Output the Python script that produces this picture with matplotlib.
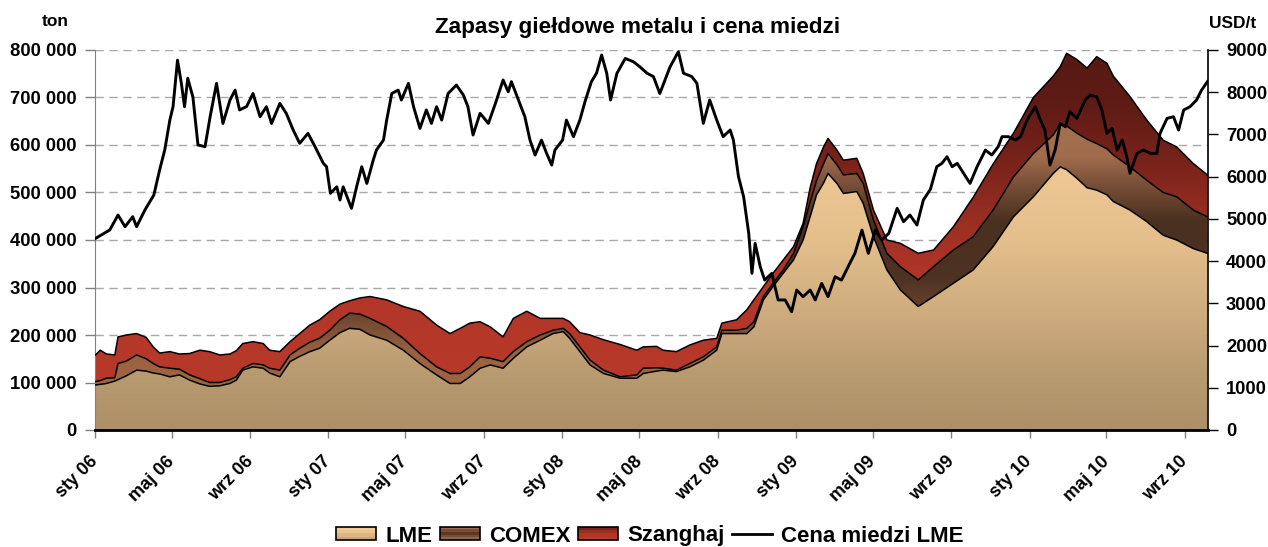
import numpy as np
import matplotlib
matplotlib.use("Agg")
import matplotlib.pyplot as plt
import matplotlib.dates as mdates
from matplotlib.colors import LinearSegmentedColormap
from matplotlib.patches import Patch, Rectangle
from matplotlib.lines import Line2D
from matplotlib.legend_handler import HandlerBase

# zapasy (tys. ton)
stock_dates = [
    "2006-01-02", "2006-01-09", "2006-01-19", "2006-02-01", "2006-02-06", "2006-02-19",
    "2006-03-07", "2006-03-22", "2006-04-02", "2006-04-12", "2006-04-28", "2006-05-13",
    "2006-05-29", "2006-06-14", "2006-06-29", "2006-07-15", "2006-07-31", "2006-08-10",
    "2006-08-20", "2006-09-05", "2006-09-21", "2006-10-01", "2006-10-17", "2006-11-02",
    "2006-11-17", "2006-12-03", "2006-12-18", "2007-01-03", "2007-01-19", "2007-02-03",
    "2007-02-19", "2007-03-07", "2007-04-02", "2007-04-28", "2007-05-24", "2007-06-19",
    "2007-07-10", "2007-07-26", "2007-08-10", "2007-08-26", "2007-09-11", "2007-10-01",
    "2007-10-17", "2007-11-07", "2007-11-28", "2007-12-18", "2008-01-03", "2008-01-13",
    "2008-01-29", "2008-02-14", "2008-03-06", "2008-04-01", "2008-04-27", "2008-05-07",
    "2008-05-28", "2008-06-07", "2008-06-28", "2008-07-19", "2008-08-09", "2008-08-30",
    "2008-09-07", "2008-09-30", "2008-10-16", "2008-10-27", "2008-11-11", "2008-11-26",
    "2008-12-12", "2008-12-28", "2009-01-12", "2009-01-23", "2009-02-02", "2009-02-13",
    "2009-02-20", "2009-03-06", "2009-03-16", "2009-04-06", "2009-04-16", "2009-05-02",
    "2009-05-23", "2009-06-13", "2009-07-11", "2009-08-04", "2009-09-04", "2009-10-05",
    "2009-11-05", "2009-12-07", "2010-01-07", "2010-02-07", "2010-02-18", "2010-02-28",
    "2010-03-16", "2010-04-01", "2010-04-16", "2010-05-02", "2010-05-12", "2010-06-07",
    "2010-07-03", "2010-07-29", "2010-08-19", "2010-09-14", "2010-10-06",
]
lme_kt = [
    95, 96, 98, 103, 106, 114, 126, 124, 120, 118, 112, 116, 105, 97, 92, 93, 98, 105,
    126, 133, 130, 120, 112, 144, 155, 165, 172, 189, 205, 214, 212, 200, 189, 168, 140, 116,
    98, 98, 112, 130, 137, 130, 151, 175, 189, 203, 207, 193, 165, 137, 119, 109, 109, 119,
    124, 126, 123, 133, 147, 168, 203, 203, 203, 217, 274, 302, 330, 358, 400, 449, 495, 520,
    540, 519, 498, 502, 477, 407, 337, 295, 260, 281, 309, 337, 386, 449, 491, 540, 554, 548,
    530, 510, 505, 495, 481, 463, 439, 410, 400, 382, 372,
]
comex_kt = [
    7, 8, 11, 7, 34, 31, 32, 26, 20, 15, 18, 12, 11, 11, 8, 7, 8, 7,
    4, 7, 7, 10, 14, 14, 17, 20, 21, 21, 27, 32, 32, 35, 29, 25, 21, 17,
    21, 21, 21, 24, 14, 14, 14, 11, 11, 7, 7, 10, 10, 10, 7, 3, 7, 11,
    7, 4, 3, 7, 7, 7, 7, 7, 11, 11, 7, 7, 7, 14, 28, 31, 30, 40,
    42, 39, 39, 38, 42, 35, 35, 49, 56, 63, 70, 70, 77, 84, 91, 81, 91, 92,
    95, 102, 98, 97, 98, 91, 87, 90, 91, 81, 77,
]
shanghai_kt = [
    56, 64, 51, 48, 56, 55, 45, 45, 35, 29, 35, 32, 45, 60, 65, 58, 54, 55,
    52, 46, 45, 38, 39, 28, 31, 36, 39, 40, 33, 26, 34, 46, 56, 67, 89, 88,
    84, 95, 92, 74, 66, 52, 70, 64, 35, 25, 21, 25, 30, 53, 64, 68, 52, 45,
    45, 38, 39, 39, 35, 18, 15, 22, 39, 46, 21, 21, 21, 14, 7, 30, 36, 36,
    32, 31, 31, 32, 21, 21, 28, 49, 56, 35, 49, 83, 97, 92, 118, 124, 120, 153,
    155, 150, 183, 180, 166, 148, 127, 110, 105, 98, 88,
]

# cena miedzi LME (USD/t)
price_dates = [
    "2006-01-02", "2006-01-24", "2006-02-06", "2006-02-17", "2006-03-01", "2006-03-07",
    "2006-03-20", "2006-04-03", "2006-04-12", "2006-04-20", "2006-04-28", "2006-05-03",
    "2006-05-10", "2006-05-16", "2006-05-21", "2006-05-26", "2006-06-03", "2006-06-11",
    "2006-06-22", "2006-06-30", "2006-07-10", "2006-07-20", "2006-07-31", "2006-08-08",
    "2006-08-15", "2006-08-26", "2006-09-05", "2006-09-16", "2006-09-26", "2006-10-04",
    "2006-10-17", "2006-10-27", "2006-11-07", "2006-11-17", "2006-11-30", "2006-12-11",
    "2006-12-24", "2006-12-29", "2007-01-04", "2007-01-14", "2007-01-19", "2007-01-24",
    "2007-02-06", "2007-02-14", "2007-02-22", "2007-03-02", "2007-03-12", "2007-03-17",
    "2007-03-28", "2007-04-02", "2007-04-10", "2007-04-20", "2007-04-25", "2007-05-06",
    "2007-05-14", "2007-05-24", "2007-06-03", "2007-06-11", "2007-06-19", "2007-06-27",
    "2007-07-07", "2007-07-20", "2007-07-31", "2007-08-07", "2007-08-15", "2007-08-26",
    "2007-09-08", "2007-09-19", "2007-10-01", "2007-10-09", "2007-10-14", "2007-10-25",
    "2007-11-04", "2007-11-12", "2007-11-20", "2007-11-30", "2007-12-08", "2007-12-16",
    "2007-12-21", "2008-01-02", "2008-01-08", "2008-01-19", "2008-01-29", "2008-02-06",
    "2008-02-16", "2008-02-24", "2008-03-03", "2008-03-11", "2008-03-17", "2008-03-27",
    "2008-04-09", "2008-04-22", "2008-05-02", "2008-05-13", "2008-05-23", "2008-06-02",
    "2008-06-18", "2008-07-01", "2008-07-09", "2008-07-22", "2008-07-30", "2008-08-09",
    "2008-08-19", "2008-08-30", "2008-09-09", "2008-09-20", "2008-09-25", "2008-10-03",
    "2008-10-11", "2008-10-19", "2008-10-24", "2008-10-29", "2008-11-06", "2008-11-13",
    "2008-11-24", "2008-12-04", "2008-12-15", "2008-12-25", "2009-01-02", "2009-01-12",
    "2009-01-23", "2009-01-31", "2009-02-10", "2009-02-20", "2009-03-03", "2009-03-13",
    "2009-03-26", "2009-04-03", "2009-04-14", "2009-04-24", "2009-05-05", "2009-05-15",
    "2009-05-26", "2009-06-08", "2009-06-18", "2009-06-28", "2009-07-09", "2009-07-19",
    "2009-07-30", "2009-08-09", "2009-08-17", "2009-08-25", "2009-09-02", "2009-09-10",
    "2009-09-20", "2009-09-30", "2009-10-11", "2009-10-24", "2009-11-03", "2009-11-13",
    "2009-11-19", "2009-11-29", "2009-12-10", "2009-12-18", "2009-12-28", "2010-01-10",
    "2010-01-18", "2010-01-25", "2010-02-02", "2010-02-10", "2010-02-18", "2010-02-26",
    "2010-03-05", "2010-03-16", "2010-03-29", "2010-04-06", "2010-04-16", "2010-04-24",
    "2010-05-02", "2010-05-10", "2010-05-18", "2010-05-26", "2010-06-02", "2010-06-07",
    "2010-06-18", "2010-06-28", "2010-07-09", "2010-07-19", "2010-07-24", "2010-08-04",
    "2010-08-14", "2010-08-22", "2010-08-30", "2010-09-09", "2010-09-19", "2010-09-27",
    "2010-10-06",
]
price_usd = [
    4540, 4736, 5091, 4815, 5052, 4815, 5210, 5565, 6157, 6630, 7340, 7657,
    8760, 8210, 7657, 8330, 7890, 6750, 6710, 7420, 8210, 7260, 7815, 8050,
    7580, 7660, 7970, 7420, 7657, 7260, 7735, 7500, 7100, 6790, 7026, 6710,
    6315, 6236, 5605, 5760, 5447, 5760, 5250, 5760, 6236, 5840, 6394, 6630,
    6868, 7340, 7970, 8050, 7815, 8210, 7657, 7145, 7580, 7262, 7657, 7340,
    7970, 8170, 7930, 7657, 6986, 7500, 7262, 7735, 8290, 8010, 8250, 7815,
    7420, 6868, 6512, 6868, 6552, 6275, 6630, 6868, 7340, 6947, 7340, 7775,
    8250, 8450, 8880, 8450, 7815, 8450, 8800, 8720, 8600, 8450, 8370, 7970,
    8600, 8960, 8450, 8370, 8210, 7262, 7815, 7340, 6947, 7105, 6868, 6000,
    5525, 4660, 3710, 4420, 3867, 3550, 3710, 3080, 3080, 2800, 3315, 3157,
    3315, 3080, 3473, 3157, 3630, 3550, 3947, 4184, 4736, 4184, 4736, 4500,
    4658, 5250, 4934, 5092, 4855, 5447, 5700, 6236, 6315, 6473, 6236, 6315,
    6078, 5840, 6236, 6630, 6512, 6710, 6947, 6947, 6868, 6947, 7340, 7657,
    7340, 7105, 6275, 6630, 7262, 7183, 7540, 7380, 7815, 7930, 7890, 7580,
    7026, 7145, 6630, 6868, 6473, 6078, 6552, 6630, 6552, 6552, 7026, 7380,
    7420, 7105, 7580, 7657, 7815, 8050, 8250,
]

month_names = {1: "sty", 5: "maj", 9: "wrz"}

plt.rcParams["font.family"] = ["Liberation Sans", "DejaVu Sans"]
plt.rcParams["font.weight"] = "bold"

xs = mdates.date2num(np.array(stock_dates, dtype="datetime64[D]"))
xp = mdates.date2num(np.array(price_dates, dtype="datetime64[D]"))
lme = np.array(lme_kt) * 1000.0
comex = np.array(comex_kt) * 1000.0
shanghai = np.array(shanghai_kt) * 1000.0
lvl1 = lme
lvl2 = lme + comex
lvl3 = lme + comex + shanghai

YMAX = 800000

# gradienty (pionowo, wg wartosci na osi)
cm_lme = LinearSegmentedColormap.from_list("lme", [
    (0.0, "#ad9068"), (0.15, "#b99b71"), (0.3, "#cdab7d"), (0.5, "#e4bf8c"),
    (0.7, "#efc994"), (1.0, "#f4cf9a")])
cm_comex = LinearSegmentedColormap.from_list("comex", [
    (0.0, "#a36a45"), (0.2, "#9a6240"), (0.3, "#6e4630"), (0.4, "#4e3222"),
    (0.55, "#4a301f"), (0.65, "#7a5038"), (0.72, "#a06c4c"), (1.0, "#b07a56")])
cm_sh = LinearSegmentedColormap.from_list("sh", [
    (0.0, "#b83a2a"), (0.4, "#b23628"), (0.55, "#9a2e22"), (0.7, "#7a231b"),
    (0.85, "#601c16"), (1.0, "#561913")])


class GradHandler(HandlerBase):
    # prostokat w legendzie wypelniony paskami (gradient)
    def __init__(self, colors):
        super().__init__()
        self.colors = colors

    def create_artists(self, legend, orig_handle, xdescent, ydescent, width,
                       height, fontsize, trans):
        n = len(self.colors)
        arts = []
        for i, c in enumerate(self.colors):
            arts.append(Rectangle((-xdescent, -ydescent + height * (n - 1 - i) / n),
                                  width, height / n + 0.2, facecolor=c,
                                  edgecolor="none", transform=trans))
        arts.append(Rectangle((-xdescent, -ydescent), width, height,
                              facecolor="none", edgecolor="black", lw=1.2,
                              transform=trans))
        return arts


fig = plt.figure(figsize=(12.68, 5.47), dpi=100)
ax = fig.add_axes([95 / 1268, 1 - 430 / 547, (1208 - 95) / 1268, 380 / 547])

x0 = mdates.date2num(np.datetime64("2006-01-01"))
x1 = mdates.date2num(np.datetime64("2010-10-07"))
grad = np.linspace(0, 1, 400).reshape(-1, 1)


def gradient_band(lower, upper, cmap):
    poly = ax.fill_between(xs, lower, upper, facecolor="none", edgecolor="none")
    img = ax.imshow(grad, extent=[x0, x1, 0, YMAX], origin="lower", aspect="auto",
                    cmap=cmap, zorder=1, interpolation="bilinear")
    img.set_clip_path(poly.get_paths()[0], transform=ax.transData)


gradient_band(np.zeros_like(lvl1), lvl1, cm_lme)
gradient_band(lvl1, lvl2, cm_comex)
gradient_band(lvl2, lvl3, cm_sh)
for lv in (lvl1, lvl2, lvl3):
    ax.plot(xs, lv, color="black", lw=1.1, zorder=3)

ax.set_xlim(x0, x1)
ax.set_ylim(0, YMAX)
ax.set_aspect("auto")

ax.set_yticks(np.arange(0, YMAX + 1, 100000))
ax.set_yticklabels([f"{int(v):,}".replace(",", " ") for v in np.arange(0, YMAX + 1, 100000)])
ax.yaxis.grid(True, linestyle=(0, (6, 4)), color="#a8a8a8", lw=1.0)
ax.set_axisbelow(True)

ticks = []
labels = []
for yr in range(2006, 2011):
    for m in (1, 5, 9):
        d = np.datetime64(f"{yr}-{m:02d}-01")
        if mdates.date2num(d) <= x1:
            ticks.append(mdates.date2num(d))
            labels.append(f"{month_names[m]} {str(yr)[2:]}")
ax.set_xticks(ticks)
ax.set_xticklabels(labels, rotation=45, ha="right", va="center", rotation_mode="anchor")

ax.tick_params(axis="y", direction="out", length=7, width=1, color="#808080",
               labelsize=13.3, pad=6)
ax.tick_params(axis="x", direction="out", length=6, width=1, color="#808080",
               labelsize=13, pad=15)
for lab in ax.get_xticklabels() + ax.get_yticklabels():
    lab.set_fontweight("bold")

ax.spines["top"].set_visible(False)
ax.spines["right"].set_visible(False)
ax.spines["left"].set_color("#808080")
ax.spines["bottom"].set_color("black")
ax.spines["bottom"].set_linewidth(2)

# cena - prawa os
ax2 = ax.twinx()
ax2.plot(xp, price_usd, color="black", lw=2.1, zorder=5)
ax2.set_ylim(0, 9000)
ax2.set_xlim(x0, x1)
ax2.set_yticks(np.arange(0, 9001, 1000))
ax2.set_yticklabels([str(v) for v in range(0, 9001, 1000)])
ax2.tick_params(axis="y", direction="out", length=7, width=1, color="black",
                labelsize=13.2, pad=6)
for lab in ax2.get_yticklabels():
    lab.set_fontweight("bold")
ax2.spines["top"].set_visible(False)
ax2.spines["left"].set_visible(False)
ax2.spines["bottom"].set_visible(False)
ax2.spines["right"].set_color("black")
ax2.spines["right"].set_linewidth(1.2)

fig.text(638 / 1268, 1 - 28 / 547, "Zapasy giełdowe metalu i cena miedzi",
         ha="center", va="center", fontsize=16.2, fontweight="bold")
fig.text(55 / 1268, 1 - 22 / 547, "ton", ha="center", va="center",
         fontsize=12.5, fontweight="bold")
fig.text(1233 / 1268, 1 - 24 / 547, "USD/t", ha="center", va="center",
         fontsize=12.5, fontweight="bold")

h_lme = Patch()
h_comex = Patch()
h_sh = Patch()
h_price = Line2D([], [], color="black", lw=2)
fig.legend([h_lme, h_comex, h_sh, h_price],
           ["LME", "COMEX", "Szanghaj", "Cena miedzi LME"],
           handler_map={
               h_lme: GradHandler(["#f2cb94", "#eac28c", "#dcb582", "#c8a476"]),
               h_comex: GradHandler(["#a06a48", "#7a4e34", "#5a3a26", "#7a4e34", "#946246"]),
               h_sh: GradHandler(["#7a231b", "#9a2e22", "#b03626", "#b83a2a"]),
           },
           loc="center", bbox_to_anchor=(650 / 1268, 11 / 547), ncol=4,
           frameon=False, prop=dict(weight="bold", size=16),
           handlelength=1.8, handleheight=0.55, handletextpad=0.4,
           columnspacing=0.35)

fig.savefig("out.png", dpi=100)
